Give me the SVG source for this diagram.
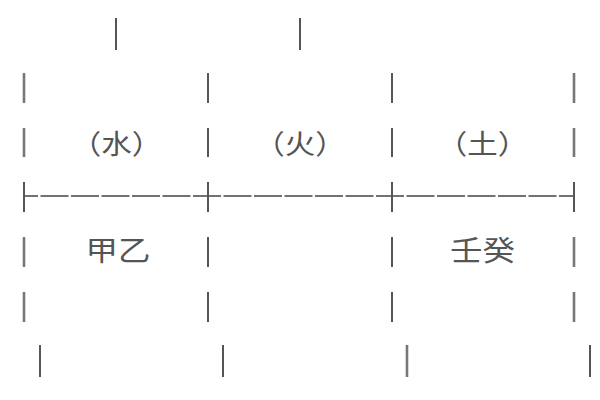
<svg xmlns="http://www.w3.org/2000/svg" width="600" height="400" viewBox="0 0 600 400">
  <style>
    .bar { stroke: #555; stroke-width: 2; stroke-linecap: butt; }
    .outer { stroke: #777; stroke-width: 2.6; }
    .rule { stroke: #444; stroke-width: 1.6; fill: none; }
    .tick { stroke: #555; stroke-width: 2; }
    .lbl { font-family: "Noto Sans CJK SC", "Noto Sans CJK JP", sans-serif; fill: #555; text-anchor: middle; }
    .el { font-size: 27px; }
    .stem { font-size: 29px; }
  </style>
  <rect width="600" height="400" fill="#ffffff"/>

  <g id="top-bars">
    <line class="bar" x1="116" y1="18" x2="116" y2="50"/>
    <line class="bar" x1="300" y1="18" x2="300" y2="50"/>
  </g>

  <g id="row-b">
    <line class="bar outer" x1="24" y1="73" x2="24" y2="103"/>
    <line class="bar" x1="208" y1="73" x2="208" y2="103"/>
    <line class="bar" x1="392" y1="73" x2="392" y2="103"/>
    <line class="bar outer" x1="574" y1="73" x2="574" y2="103"/>
  </g>

  <g id="row-c">
    <line class="bar outer" x1="24" y1="128" x2="24" y2="157"/>
    <line class="bar" x1="208" y1="128" x2="208" y2="157"/>
    <line class="bar" x1="392" y1="128" x2="392" y2="157"/>
    <line class="bar outer" x1="574" y1="128" x2="574" y2="157"/>
  </g>

  <g id="element-labels">
    <text class="lbl el" transform="translate(116.5,154) scale(1.13,1)">（水）</text>
    <text class="lbl el" transform="translate(300,154) scale(1.13,1)">（火）</text>
    <text class="lbl el" transform="translate(482.5,154) scale(1.13,1)">（土）</text>
  </g>

  <g id="rule">
    <line class="rule" x1="24" y1="196" x2="574" y2="196" stroke-dasharray="28 2.5" stroke-dashoffset="14"/>
    <line class="tick outer" x1="24" y1="182" x2="24" y2="212"/>
    <line class="tick" x1="208" y1="182" x2="208" y2="212"/>
    <line class="tick" x1="392" y1="182" x2="392" y2="212"/>
    <line class="tick outer" x1="574" y1="182" x2="574" y2="212"/>
  </g>

  <g id="row-d">
    <line class="bar outer" x1="24" y1="237" x2="24" y2="267"/>
    <line class="bar" x1="208" y1="237" x2="208" y2="267"/>
    <line class="bar" x1="392" y1="237" x2="392" y2="267"/>
    <line class="bar outer" x1="574" y1="237" x2="574" y2="267"/>
  </g>

  <g id="stem-labels">
    <text class="lbl stem" transform="translate(118,261) scale(1.12,1)">甲乙</text>
    <text class="lbl stem" transform="translate(482.5,261) scale(1.12,1)">壬癸</text>
  </g>

  <g id="row-e">
    <line class="bar outer" x1="24" y1="292" x2="24" y2="322"/>
    <line class="bar" x1="208" y1="292" x2="208" y2="322"/>
    <line class="bar" x1="392" y1="292" x2="392" y2="322"/>
    <line class="bar outer" x1="574" y1="292" x2="574" y2="322"/>
  </g>

  <g id="row-f">
    <line class="bar" x1="40" y1="345" x2="40" y2="377"/>
    <line class="bar" x1="223" y1="345" x2="223" y2="377"/>
    <line class="bar outer" x1="407" y1="345" x2="407" y2="377"/>
    <line class="bar" x1="590" y1="345" x2="590" y2="377"/>
  </g>
</svg>
